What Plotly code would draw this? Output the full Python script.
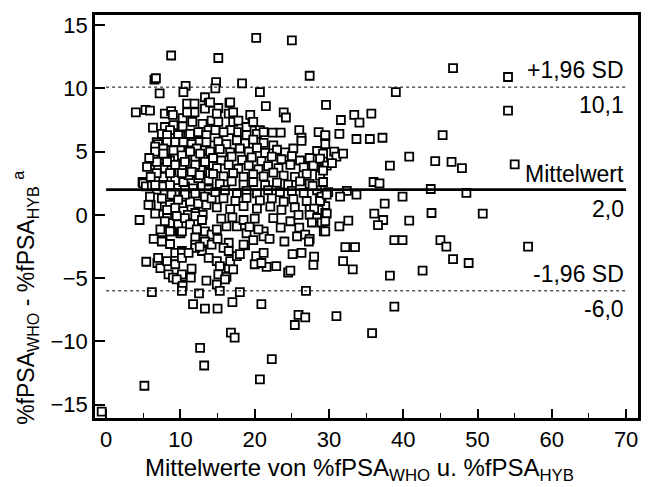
import plotly.graph_objects as go

# Bland-Altman comparison: %fPSA (WHO calibrated) vs %fPSA (Hybritech calibrated)
# Each point: (mean of both methods, difference WHO - HYB)

upper_pts = [
    (20.2, 14.0), (25.0, 13.8), (8.75, 12.6), (15.1, 12.4), (27.4, 11.0), (6.5, 10.7), (6.7, 10.8),
    (7.2, 9.6), (10.7, 10.2), (10.4, 9.7), (14.8, 10.5), (14.7, 10.0), (18.3, 10.4), (20.7, 9.7),
    (21.5, 8.6), (29.6, 8.7), (4.0, 8.1), (5.3, 8.3), (5.9, 8.25), (6.3, 6.9), (23.9, 8.1), (24.2, 7.7),
    (19.4, 7.9), (19.7, 7.3), (26.0, 6.7), (26.3, 6.1), (28.6, 6.55), (29.5, 6.2), (22.4, 6.5), (23.5, 6.5),
    (7.9, 8.0), (8.75, 8.2), (8.98, 7.9), (7.9, 6.95), (9.06, 7.1), (10.3, 7.65), (10.3, 7.0), (10.9, 8.8),
    (11.9, 8.8), (11.9, 8.1), (10.9, 8.1), (11.6, 7.35), (13.3, 9.3), (13.8, 8.85), (13.3, 8.4), (12.97, 7.2),
    (12.4, 6.4), (14.2, 7.45), (13.8, 6.7), (8.6, 6.15), (9.96, 6.3), (11.5, 6.3), (15.1, 8.45), (16.6, 8.85),
    (14.9, 8.0), (16.5, 8.0), (17.1, 7.35), (15.1, 7.35), (14.0, 8.9), (20.7, 6.7), (20.3, 6.4), (18.9, 6.3),
    (17.6, 6.55), (16.7, 6.7), (15.8, 6.55), (7.5, 6.4), (8.6, 6.7), (9.7, 6.3), (11.3, 6.4), (12.4, 6.55),
    (13.5, 6.3), (14.7, 6.7), (6.8, 5.75), (9.5, 5.75), (10.6, 5.75), (11.7, 5.75), (14.2, 5.5), (17.1, 8.1),
    (16.7, 8.9), (17.8, 7.45), (18.9, 6.95), (19.8, 7.35), (21.2, 6.55), (8.2, 6.3),
]

core_left_pts = [
    (5.5, 3.8), (4.9, 2.6), (5.4, 2.3), (4.5, -0.4), (6.0, 0.8), (6.6, 0.1), (5.0, 2.5), (5.35, 2.25),
    (6.15, 2.3), (6.8, 2.0), (7.7, 2.25), (8.8, 2.1), (9.7, 2.35), (10.6, 2.25), (11.7, 2.1), (12.9, 2.25),
    (13.8, 2.0), (7.0, 3.8), (7.9, 3.7), (8.8, 3.55), (7.7, 3.0), (9.3, 2.75), (10.4, 2.6), (5.7, 0.8),
    (7.9, 0.65), (9.06, 0.9), (10.2, 0.8), (11.3, 1.05), (12.4, 0.9), (13.5, 0.8), (9.3, 1.6), (10.6, 1.6),
    (12.0, 1.7), (13.3, 1.45), (14.2, 1.3), (9.7, 0.15), (12.0, 0.15), (5.9, 1.45), (7.5, 1.3), (8.8, 1.6),
    (8.6, 0.8), (9.7, 1.2), (9.3, 0.55), (8.2, 0.4), (10.4, 0.3), (11.0, 0.0), (13.0, 0.0), (6.6, 2.35),
    (8.6, 2.35), (6.8, 4.6), (7.5, 4.7), (8.2, 5.0), (9.3, 4.6), (8.6, 4.3), (10.2, 3.9), (11.3, 4.05),
    (12.0, 3.7), (12.9, 3.55), (13.8, 3.4), (11.1, 3.15), (12.4, 2.9), (13.8, 2.75), (7.0, 5.6), (8.2, 5.75),
    (9.3, 5.75), (10.4, 5.75), (11.5, 5.6), (12.6, 5.75), (13.5, 5.75), (6.6, 5.4), (7.7, 5.25), (8.8, 5.1),
    (10.0, 5.1), (11.1, 5.1), (12.2, 5.25), (13.3, 5.1), (10.6, 4.45), (12.0, 4.6), (13.1, 4.45), (14.2, 4.3),
    (6.6, 5.0), (7.7, 4.85), (9.06, 5.1), (10.2, 4.7), (11.3, 5.0), (12.65, 4.85), (14.0, 5.0), (6.8, 4.2),
    (8.2, 4.2), (9.3, 3.95), (10.6, 4.2), (12.0, 3.95), (13.3, 4.2), (14.4, 3.95), (6.8, 3.3), (8.6, 3.3),
    (10.2, 3.3), (11.5, 3.4), (12.6, 3.15), (14.0, 3.3), (6.0, 3.0), (5.8, 4.5),
]

core_right_pts = [
    (15.1, 5.8), (16.2, 5.6), (17.6, 5.9), (18.7, 5.65), (19.8, 5.95), (21.2, 5.7), (22.5, 5.5),
    (26.3, 5.85), (29.5, 5.6),
    (15.3, 5.2), (16.7, 4.95), (18.0, 5.25), (19.2, 5.0), (20.3, 5.3), (21.4, 4.9), (23.0, 5.15),
    (24.1, 4.95), (25.2, 5.25), (28.4, 5.05),
    (14.4, 4.5), (15.5, 4.3), (16.9, 4.6), (18.3, 4.35), (19.6, 4.55), (20.9, 4.25), (22.3, 4.6),
    (23.6, 4.4), (25.0, 4.65), (26.1, 4.3), (27.4, 4.5), (29.2, 4.35),
    (14.9, 3.7), (16.5, 3.95), (17.8, 3.65), (19.2, 3.9), (20.5, 3.6), (21.8, 3.85), (23.2, 3.7),
    (24.8, 3.95), (26.6, 3.75), (27.9, 3.85), (29.0, 3.6),
    (14.4, 3.25), (15.8, 3.05), (17.1, 3.3), (18.5, 3.0), (19.8, 3.2), (21.2, 3.05), (22.5, 3.35),
    (23.9, 3.1), (25.4, 3.0), (27.0, 3.25), (28.8, 3.1),
    (15.3, 2.45), (16.9, 2.65), (18.5, 2.4), (19.8, 2.6), (21.4, 2.35), (23.0, 2.55), (24.5, 2.4),
    (26.1, 2.65), (27.4, 2.45), (29.2, 2.6),
    (14.7, 1.8), (16.0, 1.95), (17.6, 1.75), (18.9, 1.9), (20.3, 1.7), (21.8, 1.95), (23.4, 1.8),
    (25.0, 1.9), (26.6, 1.75), (28.4, 1.95), (29.9, 1.8),
    (15.8, 1.3), (17.4, 1.1), (18.9, 1.35), (20.7, 1.15), (22.3, 1.3), (23.9, 1.05), (25.2, 1.25),
    (27.0, 1.1), (28.8, 1.3),
    (14.9, 0.6), (16.7, 0.45), (18.5, 0.7), (20.3, 0.5), (22.1, 0.65), (23.6, 0.4), (25.4, 0.6),
    (27.4, 0.45), (29.5, 0.7),
    (27.9, 3.9), (29.2, 4.85), (28.8, 4.45), (27.8, 2.3), (29.0, 1.45), (28.8, 1.1), (28.6, 0.4), (28.0, 0.5),
]

near_zero_pts = [
    (8.2, -0.25), (8.6, -0.65), (9.5, -0.1), (9.7, -0.75), (10.6, -0.25), (11.3, -0.75), (12.0, -0.1),
    (12.9, -0.4), (13.3, -1.3), (14.2, -1.55), (12.2, -1.15), (12.0, -1.8), (13.3, -2.1), (14.2, -2.35),
    (8.8, -1.3), (10.0, -1.45), (12.0, -2.35), (12.9, -2.85), (10.2, -2.85), (9.3, -3.0), (7.3, -1.15),
    (7.9, -0.5), (10.2, -1.3), (8.6, -1.3), (14.9, -1.15), (16.2, -0.9), (17.6, -0.9), (18.9, -1.45),
    (21.2, -1.3), (21.2, -1.7), (20.5, -1.15), (22.5, -0.25), (24.8, -0.5), (25.9, 0.0), (27.4, 0.0),
    (28.4, -0.25), (29.5, 0.15), (15.0, -1.9), (16.5, -2.2), (19.8, -2.0), (22.0, -1.9), (24.0, -2.1),
    (15.5, -0.3), (17.0, -0.2), (18.5, -0.4), (20.0, -0.3), (23.5, -1.0), (19.3, -0.95), (26.0, -1.0),
    (6.4, -1.9), (7.6, -2.0), (7.5, -2.1), (8.6, -2.3), (27.7, -0.6), (29.0, -0.6), (29.3, -1.3),
    (25.7, -1.7), (26.8, -1.55), (27.4, -1.9),
]

lower_pts = [
    (5.4, -3.7), (6.9, -3.8), (7.3, -4.2), (8.2, -3.65), (9.3, -3.9), (10.2, -3.0), (10.2, -3.4),
    (8.4, -4.7), (9.0, -4.95), (10.2, -4.7), (10.2, -5.5), (11.5, -4.25), (11.4, -4.95), (12.0, -2.6),
    (11.1, -3.0), (12.6, -2.5), (13.8, -3.4), (13.5, -5.2), (14.9, -3.65), (15.3, -4.05), (15.1, -4.7),
    (14.9, -5.5), (16.2, -4.9), (16.5, -4.2), (17.1, -4.3), (16.7, -3.65), (15.8, -2.6), (16.5, -2.85),
    (17.6, -3.25), (18.0, -3.1), (18.7, -2.4), (20.0, -3.9), (20.2, -3.25), (21.2, -3.0), (21.6, -4.1),
    (22.9, -4.05), (24.5, -4.55), (24.8, -4.4), (25.1, -3.1), (26.3, -3.0), (28.0, -3.3), (27.9, -3.95),
    (27.3, -2.1), (7.0, -3.4), (9.5, -5.1), (10.3, -5.6), (16.0, -5.1), (20.9, -3.8), (18.5, -2.35),
    (5.15, -13.5), (12.65, -10.5), (13.2, -11.9), (20.7, -13.0), (22.3, -11.4), (16.8, -9.3), (17.3, -9.7),
    (25.4, -8.7), (25.9, -7.9), (26.8, -8.1), (11.7, -7.05), (13.3, -7.4), (15.0, -7.4), (17.0, -6.9),
    (20.9, -7.05), (6.15, -6.1), (10.2, -6.0), (12.5, -6.2), (15.3, -6.0), (18.0, -6.1), (26.9, -6.0),
    (-0.6, -15.55),
]

high_mean_pts = [
    (46.7, 11.6), (54.1, 10.9), (39.0, 9.7), (54.1, 8.25), (31.6, 7.5), (33.4, 7.9), (34.1, 7.3),
    (35.7, 8.0), (45.3, 6.3), (29.5, 6.3), (31.4, 6.4), (33.7, 6.0), (35.5, 6.0), (37.2, 6.1), (38.2, 3.9),
    (40.8, 4.6), (44.3, 4.25), (46.5, 4.2), (47.9, 3.7), (55.0, 4.0), (29.7, 3.9), (30.7, 5.0), (31.0, 4.6),
    (31.9, 4.85), (30.4, 4.1), (29.2, 3.5), (36.0, 2.6), (36.8, 2.5), (43.7, 2.05), (48.5, 1.75),
    (32.4, 1.9), (31.5, 1.45), (33.7, 1.6), (39.9, 1.45), (29.7, 1.6), (37.5, 0.9), (36.1, 0.1),
    (37.3, -0.4), (36.6, -0.8), (32.6, -0.45), (31.4, -0.9), (40.8, -0.45), (43.8, 0.15), (50.7, 0.1),
    (29.7, 0.1), (29.5, -0.5), (29.5, -1.3), (32.2, -2.55), (33.5, -2.55), (38.8, -2.0), (39.9, -2.0),
    (45.0, -2.0), (45.8, -2.5), (56.8, -2.5), (31.9, -3.65), (33.2, -4.3), (38.2, -4.8), (42.6, -4.4),
    (46.7, -3.5), (48.8, -3.8), (31.0, -8.0), (38.8, -7.25), (35.8, -9.35),
]

mean_diff = 2.0
upper_loa = 10.1
lower_loa = -6.0
line_span = [0, 70]

x_ticks = [0, 10, 20, 30, 40, 50, 60, 70]
y_ticks = [-15, -10, -5, 0, 5, 10, 15]

all_pts = upper_pts + core_left_pts + core_right_pts + near_zero_pts + lower_pts + high_mean_pts
mean_vals = [p[0] for p in all_pts]
diff_vals = [p[1] for p in all_pts]

FONT = "Liberation Sans, Arial, sans-serif"
TICK_SIZE = 22
TEXT_SIZE = 23

fig = go.Figure()

fig.add_trace(go.Scatter(
    x=mean_vals, y=diff_vals, mode="markers",
    marker=dict(symbol="square", size=8, color="white",
                line=dict(color="black", width=1.8)),
    showlegend=False, hoverinfo="skip",
))

for level, width, dash in [(upper_loa, 1, "dot"), (lower_loa, 1, "dot"), (mean_diff, 2.6, "solid")]:
    fig.add_trace(go.Scatter(
        x=line_span, y=[level, level], mode="lines",
        line=dict(color="black", width=width, dash=dash),
        showlegend=False, hoverinfo="skip",
    ))

labels = [
    ("+1,96 SD", upper_loa + 1.35),
    (f"{upper_loa:.1f}".replace(".", ","), upper_loa - 1.45),
    ("Mittelwert", mean_diff + 1.2),
    (f"{mean_diff:.1f}".replace(".", ","), mean_diff - 1.5),
    ("-1,96 SD", lower_loa + 1.3),
    (f"{lower_loa:.1f}".replace(".", ","), lower_loa - 1.4),
]
for text, ypos in labels:
    fig.add_annotation(x=line_span[1], y=ypos, text=text, showarrow=False,
                       xanchor="right", yanchor="middle",
                       font=dict(family=FONT, size=TEXT_SIZE, color="black"))

# Axis titles placed as paper-anchored text
fig.add_annotation(
    xref="paper", yref="paper", x=0.488, y=-0.128,
    text="Mittelwerte von %fPSA<sub>WHO</sub> u. %fPSA<sub>HYB</sub>",
    showarrow=False, xanchor="center", yanchor="middle",
    font=dict(family=FONT, size=24, color="black"),
)
fig.add_annotation(
    xref="paper", yref="paper", x=-0.129, y=0.298,
    text="%fPSA<sub>WHO</sub> - %fPSA<sub>HYB</sub> <sup>a</sup>",
    showarrow=False, xanchor="center", yanchor="middle", textangle=-90,
    font=dict(family=FONT, size=TEXT_SIZE, color="black"),
)

axis_common = dict(
    showgrid=False, zeroline=False, showline=True, linecolor="black",
    linewidth=2.5, mirror=True, ticks="inside", tickcolor="black",
    tickwidth=1.5, tickfont=dict(family=FONT, size=TICK_SIZE, color="black"),
)

fig.update_xaxes(
    range=[-1.5, 71.6], tickvals=x_ticks, ticklen=9,
    minor=dict(ticks="inside", ticklen=5, tickwidth=1.2, tickcolor="black",
               tickvals=[5, 15, 25, 35, 45, 55, 65]),
    **axis_common,
)
fig.update_yaxes(
    range=[-16.05, 15.8], tickvals=y_ticks, ticklen=10,
    **axis_common,
)

fig.update_layout(
    width=653, height=487,
    margin=dict(l=95, r=15, t=12, b=69),
    paper_bgcolor="white", plot_bgcolor="white",
    font=dict(family=FONT, size=TICK_SIZE, color="black"),
)

fig.write_html("out.html")
